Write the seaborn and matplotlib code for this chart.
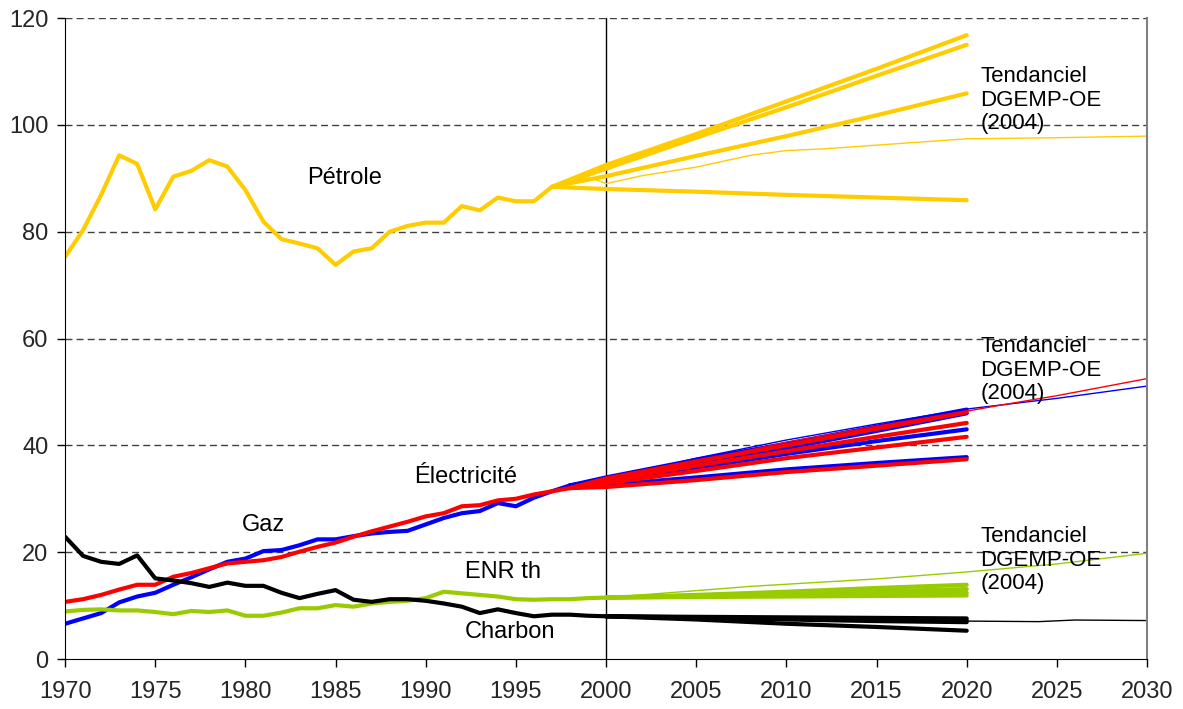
import matplotlib
matplotlib.use("Agg")
import matplotlib.pyplot as plt
import seaborn as sns
import numpy as np

# historical series
years_hist = list(range(1970, 2001))
petrole_hist = [75.3, 80.3, 86.9, 94.3, 92.7, 84.2, 90.3, 91.4, 93.4, 92.2, 87.8, 81.9, 78.6, 77.8,
                76.9, 73.8, 76.3, 76.9, 80.0, 81.1, 81.7, 81.7, 84.8, 84.0, 86.4, 85.7, 85.7, 88.4]
elec_hist = [10.7, 11.2, 12.0, 13.0, 13.9, 13.9, 15.4, 16.1, 17.0, 17.9, 18.2, 18.5, 19.1, 20.1, 21.0,
             21.8, 22.9, 23.9, 24.8, 25.7, 26.7, 27.3, 28.6, 28.8, 29.7, 30.0, 30.8, 31.4, 32.0]
gaz_hist = [6.6, 7.6, 8.6, 10.6, 11.7, 12.4, 13.9, 15.3, 16.8, 18.2, 18.8, 20.2, 20.4, 21.3, 22.4,
            22.4, 23.0, 23.5, 23.8, 24.0, 25.2, 26.4, 27.3, 27.7, 29.2, 28.6, 30.2, 31.4, 32.5]
charbon_hist = [22.9, 19.3, 18.2, 17.8, 19.4, 15.1, 14.7, 14.2, 13.5, 14.3, 13.7, 13.7, 12.4, 11.4,
                12.2, 12.9, 11.1, 10.7, 11.2, 11.2, 10.9, 10.4, 9.8, 8.6, 9.3, 8.6, 8.0, 8.3, 8.3, 8.1, 8.0]
enr_hist = [8.9, 9.2, 9.3, 9.1, 9.1, 8.8, 8.4, 9.0, 8.8, 9.1, 8.1, 8.1, 8.7, 9.5, 9.5, 10.1, 9.8,
            10.4, 10.7, 10.9, 11.4, 12.6, 12.3, 12.0, 11.7, 11.2, 11.1, 11.2, 11.2, 11.4, 11.5]

# scenarios to 2020
petrole_scen_years = [1997, 2000, 2005, 2010, 2015, 2020]
petrole_scen = [
    [88.4, 92.5, 98.3, 104.4, 110.5, 116.8],
    [88.4, 91.8, 97.6, 103.3, 109.2, 115.0],
    [88.4, 90.4, 94.2, 97.9, 101.8, 105.9],
    [88.4, 88.0, 87.5, 86.9, 86.4, 85.9],
]
elec_scen_years = [1998, 2000, 2005, 2010, 2015, 2020]
elec_scen = [
    [32.0, 33.8, 37.0, 40.0, 43.1, 46.2],
    [32.0, 33.4, 36.2, 38.9, 41.6, 44.2],
    [32.0, 32.9, 35.2, 37.6, 39.6, 41.6],
    [32.0, 32.2, 33.5, 35.0, 36.2, 37.4],
]
gaz_scen_years = [1998, 2000, 2005, 2010, 2015, 2020]
gaz_scen = [
    [32.5, 34.0, 37.3, 40.3, 43.5, 46.7],
    [32.5, 33.6, 36.6, 39.5, 42.7, 46.0],
    [32.5, 33.2, 35.8, 38.4, 40.8, 43.0],
    [32.5, 32.6, 34.0, 35.5, 36.7, 37.8],
]
charbon_scen_years = [2000, 2005, 2010, 2015, 2020]
charbon_scen = [
    [8.0, 7.9, 7.8, 7.7, 7.6],
    [8.0, 7.8, 7.6, 7.4, 7.2],
    [8.0, 7.7, 7.4, 7.1, 6.9],
    [8.0, 7.4, 6.6, 6.0, 5.3],
]
enr_scen_years = [2000, 2005, 2010, 2015, 2020]
enr_scen = [
    [11.5, 12.0, 12.6, 13.3, 13.9],
    [11.5, 11.9, 12.3, 12.7, 13.1],
    [11.5, 11.7, 12.0, 12.2, 12.4],
    [11.5, 11.6, 11.7, 11.8, 11.9],
]

# "Tendanciel DGEMP-OE (2004)" to 2030
petrole_tend_years = [1997, 1999, 2000, 2002, 2005, 2008, 2010, 2012, 2020, 2025, 2030]
petrole_tend = [88.4, 90.3, 89.0, 90.5, 92.1, 94.3, 95.2, 95.5, 97.4, 97.6, 97.9]
elec_tend_years = [1998, 2000, 2005, 2010, 2015, 2020, 2022, 2025, 2030]
elec_tend = [32.0, 33.4, 37.0, 40.6, 43.6, 46.4, 47.6, 49.3, 52.5]
gaz_tend_years = [1998, 1999, 2000, 2005, 2010, 2015, 2020, 2022, 2025, 2030]
gaz_tend = [32.5, 32.0, 33.6, 37.6, 41.0, 44.0, 46.8, 47.6, 48.8, 51.1]
charbon_tend_years = [2000, 2010, 2020, 2024, 2026, 2030]
charbon_tend = [8.0, 7.6, 7.1, 7.0, 7.3, 7.2]
enr_tend_years = [2000, 2005, 2008, 2010, 2015, 2020, 2025, 2030]
enr_tend = [11.5, 12.8, 13.6, 14.0, 15.0, 16.3, 17.8, 19.8]

YELLOW = "#FFCC00"
RED = "#FF0000"
BLUE = "#0000FF"
BLACK = "#000000"
GREEN = "#99CC00"

sns.set_style("white")
plt.rcParams["font.family"] = ["Liberation Sans", "DejaVu Sans"]

fig = plt.figure(figsize=(11.83, 7.09), dpi=100)
ax = fig.add_axes([0.055, 0.0705, 0.9146, 0.904])

series = [
    (years_hist[:len(petrole_hist)], petrole_hist, petrole_scen_years, petrole_scen,
     petrole_tend_years, petrole_tend, YELLOW),
    (years_hist[:len(gaz_hist)], gaz_hist, gaz_scen_years, gaz_scen, gaz_tend_years, gaz_tend, BLUE),
    (years_hist[:len(elec_hist)], elec_hist, elec_scen_years, elec_scen, elec_tend_years, elec_tend, RED),
    (years_hist, enr_hist, enr_scen_years, enr_scen, enr_tend_years, enr_tend, GREEN),
    (years_hist, charbon_hist, charbon_scen_years, charbon_scen,
     charbon_tend_years, charbon_tend, BLACK),
]

for hx, hy, sx, scen, tx, ty, col in series:
    sns.lineplot(x=tx, y=ty, color=col, linewidth=1.0, ax=ax)
    for sy in scen:
        sns.lineplot(x=sx, y=sy, color=col, linewidth=3.0, ax=ax)
    sns.lineplot(x=hx, y=hy, color=col, linewidth=3.0, ax=ax)

ax.axvline(2000, color="black", linewidth=1.0, zorder=0)

ax.set_xlim(1970, 2030)
ax.set_ylim(0, 120)
ax.set_xticks(range(1970, 2031, 5))
ax.set_yticks(range(0, 121, 20))
ax.set_xlabel("")
ax.set_ylabel("")
for v in range(20, 121, 20):
    ax.axhline(v, color="#404040", linewidth=1.0, linestyle=(0, (5, 3)), zorder=0)

ax.spines["top"].set_visible(False)
ax.spines["right"].set_color("#808080")
ax.spines["right"].set_linewidth(1.5)
ax.spines["left"].set_color("black")
ax.spines["bottom"].set_color("black")
ax.tick_params(axis="both", direction="out", length=6, width=1, color="black",
               labelsize=17, left=True, bottom=True)
ax.tick_params(axis="x", pad=10)
ax.tick_params(axis="y", pad=6)

txt = dict(fontsize=17, color="black")
ax.text(1985.5, 90.0, "Pétrole", ha="center", va="center", **txt)
ax.text(1992.2, 34.1, "Électricité", ha="center", va="center", **txt)
ax.text(1981.0, 25.1, "Gaz", ha="center", va="center", **txt)
ax.text(1994.3, 16.3, "ENR th", ha="center", va="center", **txt)
ax.text(1994.7, 5.1, "Charbon", ha="center", va="center", **txt)
for ty_ in [104.6, 54.1, 18.5]:
    ax.text(2020.75, ty_, "Tendanciel\nDGEMP-OE\n(2004)", ha="left", va="center",
            linespacing=1.15, fontsize=16, color="black")

fig.savefig("out.png", dpi=100)
